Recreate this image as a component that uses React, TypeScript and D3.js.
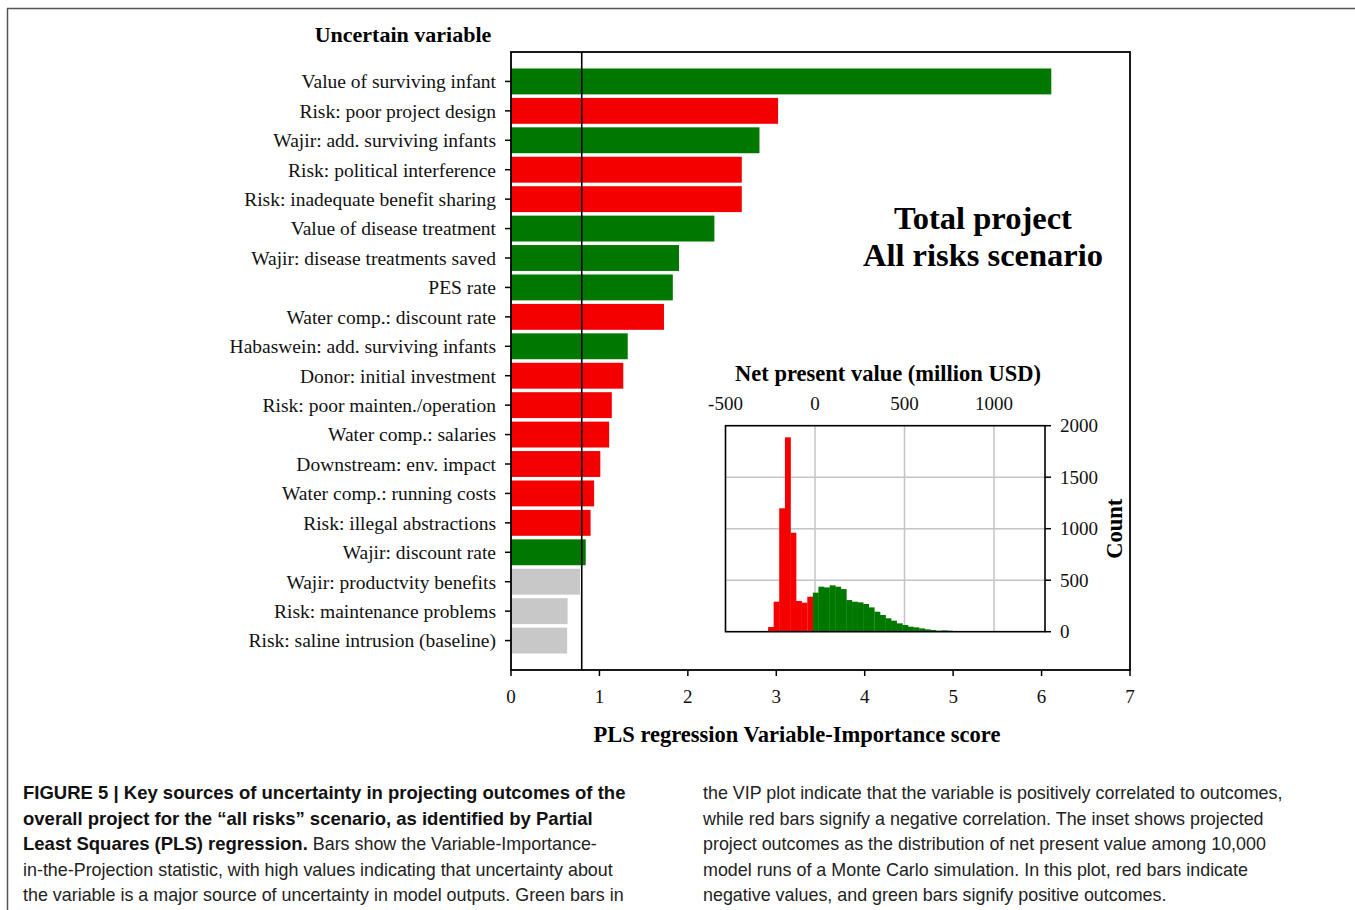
import React from 'react';
import * as d3 from 'd3';

// ---------- Main VIP chart data ----------
const categories = [
  'Value of surviving infant',
  'Risk: poor project design',
  'Wajir: add. surviving infants',
  'Risk: political interference',
  'Risk: inadequate benefit sharing',
  'Value of disease treatment',
  'Wajir: disease treatments saved',
  'PES rate',
  'Water comp.: discount rate',
  'Habaswein: add. surviving infants',
  'Donor: initial investment',
  'Risk: poor mainten./operation',
  'Water comp.: salaries',
  'Downstream: env. impact',
  'Water comp.: running costs',
  'Risk: illegal abstractions',
  'Wajir: discount rate',
  'Wajir: productvity benefits',
  'Risk: maintenance problems',
  'Risk: saline intrusion (baseline)',
];
const vipScores = [
  6.11, 3.02, 2.81, 2.61, 2.61, 2.3, 1.9, 1.83, 1.73, 1.32,
  1.27, 1.14, 1.11, 1.01, 0.94, 0.9, 0.845, 0.78, 0.64, 0.635,
];
const correlation = [
  'pos', 'neg', 'pos', 'neg', 'neg', 'pos', 'pos', 'pos', 'neg', 'pos',
  'neg', 'neg', 'neg', 'neg', 'neg', 'neg', 'pos', 'ns', 'ns', 'ns',
];
const vipTicks = [0, 1, 2, 3, 4, 5, 6, 7];
const vipThreshold = 0.8;

// ---------- Inset histogram data ----------
const npvBinStarts = [
  -262, -231, -200, -168, -137, -106, -75, -43,
  -12, 19, 50, 82, 113, 144, 175, 207, 238, 269, 300, 332, 363, 394,
  425, 457, 488, 519, 550, 582, 613, 644, 675, 707, 738, 769, 800, 832,
];
const npvCounts = [
  45, 291, 1198, 1887, 961, 298, 282, 340,
  379, 437, 430, 450, 437, 414, 307, 291, 285, 269, 236, 194, 162, 130,
  107, 81, 65, 49, 42, 32, 23, 16, 10, 13, 10, 6, 5, 3,
];
const npvBinWidth = 31.25;
const npvTicks = [-500, 0, 500, 1000];
const countTicks = [0, 500, 1000, 1500, 2000];

// ---------- Caption ----------
const captionLeft = [
  { bold: 'FIGURE 5 | Key sources of uncertainty in projecting outcomes of the', normal: '' },
  { bold: 'overall project for the \u201call risks\u201d scenario, as identified by Partial', normal: '' },
  { bold: 'Least Squares (PLS) regression.', normal: ' Bars show the Variable-Importance-' },
  { bold: '', normal: 'in-the-Projection statistic, with high values indicating that uncertainty about' },
  { bold: '', normal: 'the variable is a major source of uncertainty in model outputs. Green bars in' },
];
const captionRight = [
  'the VIP plot indicate that the variable is positively correlated to outcomes,',
  'while red bars signify a negative correlation. The inset shows projected',
  'project outcomes as the distribution of net present value among 10,000',
  'model runs of a Monte Carlo simulation. In this plot, red bars indicate',
  'negative values, and green bars signify positive outcomes.',
];

const COLORS: Record<string, string> = { pos: '#007800', neg: '#f40000', ns: '#c8c8c8' };
const SERIF = '"Liberation Serif", "Times New Roman", serif';
const SANS = '"Liberation Sans", Arial, sans-serif';

export default function App() {
  const W = 1355;
  const H = 910;

  // main plot
  const plot = { left: 511, right: 1130, top: 52, bottom: 670 };
  const x = d3.scaleLinear().domain([0, 7]).range([plot.left, plot.right]);
  const y = d3
    .scaleBand<string>()
    .domain(categories)
    .range([plot.top, plot.bottom])
    .paddingInner(0.12)
    .paddingOuter(0.56);

  // inset
  const inset = { left: 725.5, right: 1045, top: 425.7, bottom: 631.7 };
  const hx = d3.scaleLinear().domain([-500, 1285]).range([inset.left, inset.right]);
  const hy = d3.scaleLinear().domain([0, 2000]).range([inset.bottom, inset.top]);

  const capFont = 17.9;
  const capBold = 18.5;
  const capLineH = 25.6;
  const capTop = 799;
  const labelFont = 19.5;
  const tickFont = 19;
  const titleFont = 22.5;

  return (
    <svg
      width={W}
      height={H}
      viewBox={`0 0 ${W} ${H}`}
      style={{ position: 'absolute', left: 0, top: 0, background: '#fff' }}
    >
      <rect x={0} y={0} width={W} height={H} fill="#fff" />
      {/* outer figure frame */}
      <line x1={7.5} x2={7.5} y1={8.5} y2={H} stroke="#555" strokeWidth={1.5} />
      <line x1={7} x2={W} y1={8.5} y2={8.5} stroke="#555" strokeWidth={1.5} />

      {/* y title */}
      <text x={403} y={42} textAnchor="middle" fontFamily={SERIF} fontWeight="bold" fontSize={22}>
        Uncertain variable
      </text>

      {/* bars */}
      {categories.map((c, i) => (
        <rect
          key={c}
          x={x(0)}
          y={y(c)!}
          width={x(vipScores[i]) - x(0)}
          height={y.bandwidth()}
          fill={COLORS[correlation[i]]}
        />
      ))}

      {/* threshold line */}
      <line
        x1={x(vipThreshold)}
        x2={x(vipThreshold)}
        y1={plot.top}
        y2={plot.bottom}
        stroke="#000"
        strokeWidth={1.6}
      />

      {/* plot frame */}
      <rect
        x={plot.left}
        y={plot.top}
        width={plot.right - plot.left}
        height={plot.bottom - plot.top}
        fill="none"
        stroke="#000"
        strokeWidth={1.8}
      />

      {/* y axis ticks and labels */}
      {categories.map((c) => {
        const cy = y(c)! + y.bandwidth() / 2;
        return (
          <g key={'yl' + c}>
            <line x1={plot.left - 6} x2={plot.left} y1={cy} y2={cy} stroke="#000" strokeWidth={1.5} />
            <text
              x={plot.left - 15}
              y={cy}
              dy="0.35em"
              textAnchor="end"
              fontFamily={SERIF}
              fontSize={labelFont}
              fill="#111"
            >
              {c}
            </text>
          </g>
        );
      })}

      {/* x axis ticks and labels */}
      {vipTicks.map((t) => (
        <g key={'xt' + t}>
          <line x1={x(t)} x2={x(t)} y1={plot.bottom} y2={plot.bottom + 6} stroke="#000" strokeWidth={1.5} />
          <text x={x(t)} y={plot.bottom + 33} textAnchor="middle" fontFamily={SERIF} fontSize={tickFont} fill="#111">
            {t}
          </text>
        </g>
      ))}

      <text x={797} y={742} textAnchor="middle" fontFamily={SERIF} fontWeight="bold" fontSize={titleFont}>
        PLS regression Variable-Importance score
      </text>

      {/* scenario label */}
      <text x={983} y={229} textAnchor="middle" fontFamily={SERIF} fontWeight="bold" fontSize={32.5}>
        Total project
      </text>
      <text x={983} y={266} textAnchor="middle" fontFamily={SERIF} fontWeight="bold" fontSize={32.5}>
        All risks scenario
      </text>

      {/* ---------- inset histogram ---------- */}
      <rect
        x={inset.left}
        y={inset.top}
        width={inset.right - inset.left}
        height={inset.bottom - inset.top}
        fill="#fff"
      />
      {npvTicks
        .filter((t) => t > -500)
        .map((t) => (
          <line
            key={'gx' + t}
            x1={hx(t)}
            x2={hx(t)}
            y1={inset.top}
            y2={inset.bottom}
            stroke="#c4c4c4"
            strokeWidth={1.5}
          />
        ))}
      {countTicks
        .filter((t) => t > 0 && t < 2000)
        .map((t) => (
          <line
            key={'gy' + t}
            x1={inset.left}
            x2={inset.right}
            y1={hy(t)}
            y2={hy(t)}
            stroke="#c4c4c4"
            strokeWidth={1.5}
          />
        ))}
      {npvBinStarts.map((s, i) => (
        <rect
          key={'h' + i}
          x={hx(s)}
          y={hy(npvCounts[i])}
          width={hx(s + npvBinWidth) - hx(s) + 0.3}
          height={hy(0) - hy(npvCounts[i])}
          fill={s + npvBinWidth / 2 < 0 ? COLORS.neg : COLORS.pos}
        />
      ))}
      <rect
        x={inset.left}
        y={inset.top}
        width={inset.right - inset.left}
        height={inset.bottom - inset.top}
        fill="none"
        stroke="#000"
        strokeWidth={1.6}
      />
      {npvTicks.map((t) => (
        <text
          key={'nt' + t}
          x={hx(t)}
          y={inset.top - 16}
          textAnchor="middle"
          fontFamily={SERIF}
          fontSize={tickFont}
          fill="#111"
        >
          {t}
        </text>
      ))}
      {countTicks.map((t) => (
        <g key={'ct' + t}>
          <line x1={inset.right} x2={inset.right + 6} y1={hy(t)} y2={hy(t)} stroke="#000" strokeWidth={1.5} />
          <text
            x={inset.right + 15}
            y={hy(t)}
            dy="0.35em"
            textAnchor="start"
            fontFamily={SERIF}
            fontSize={tickFont}
            fill="#111"
          >
            {t}
          </text>
        </g>
      ))}
      <text x={888} y={381} textAnchor="middle" fontFamily={SERIF} fontWeight="bold" fontSize={titleFont}>
        Net present value (million USD)
      </text>
      <text
        transform={`translate(1122, ${(inset.top + inset.bottom) / 2}) rotate(-90)`}
        textAnchor="middle"
        fontFamily={SERIF}
        fontWeight="bold"
        fontSize={titleFont}
      >
        Count
      </text>

      {/* ---------- caption ---------- */}
      {captionLeft.map((l, i) => (
        <text key={'cl' + i} x={23} y={capTop + i * capLineH} fontFamily={SANS} fontSize={capFont} fill="#222">
          {l.bold && (
            <tspan fontWeight="bold" fontSize={capBold} fill="#111">
              {l.bold}
            </tspan>
          )}
          {l.normal && <tspan>{l.normal}</tspan>}
        </text>
      ))}
      {captionRight.map((l, i) => (
        <text key={'cr' + i} x={703} y={capTop + i * capLineH} fontFamily={SANS} fontSize={capFont} fill="#222">
          {l}
        </text>
      ))}
    </svg>
  );
}
